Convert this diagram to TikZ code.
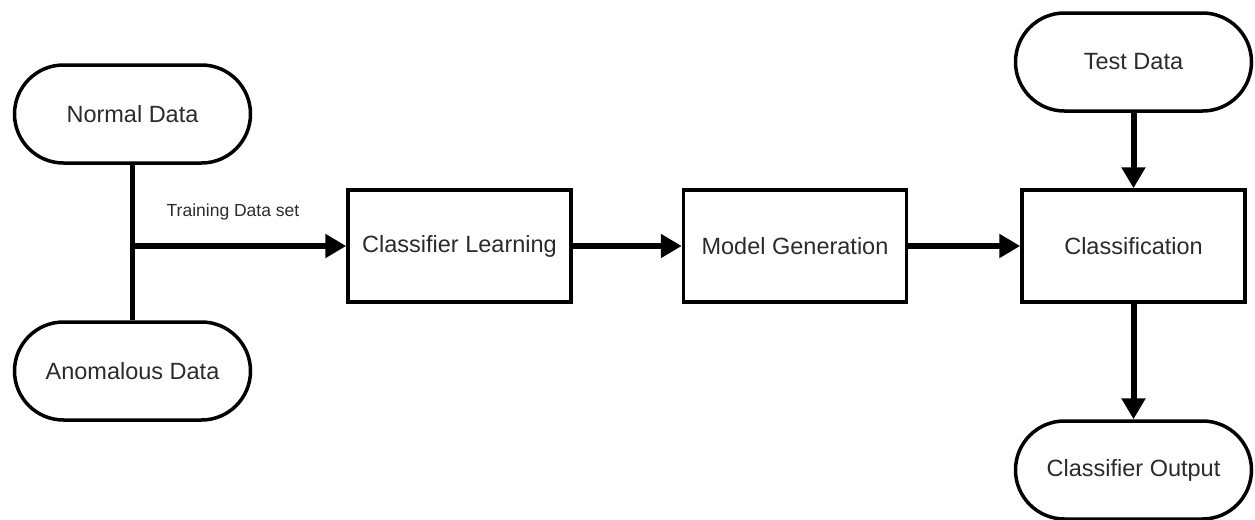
\documentclass[tikz,border=0pt]{standalone}
\usepackage{fontspec}
\setmainfont{Liberation Sans}
\usetikzlibrary{arrows.meta}
\definecolor{inkgray}{HTML}{2B2B2B}
\tikzset{
  terminal/.style={draw=black, line width=1.75pt, rounded corners=24.5pt,
    minimum width=118pt, minimum height=49pt, inner sep=0pt,
    font=\fontsize{11.75pt}{14pt}\selectfont, text=inkgray},
  process/.style={draw=black, line width=1.75pt,
    minimum width=111.5pt, minimum height=56pt, inner sep=0pt,
    font=\fontsize{11.75pt}{14pt}\selectfont, text=inkgray},
  flow/.style={line width=3pt, -{Triangle[length=10.5pt, width=11.5pt]}},
  link/.style={line width=2.6pt},
  caption/.style={font=\fontsize{8.75pt}{10pt}\selectfont, text=inkgray}
}
\begin{document}
\begin{tikzpicture}[x=0.5pt, y=-0.5pt]
  \useasboundingbox (0,0) rectangle (1255,520);
  % data sources
  \node[terminal] (normal) at (132.5,114) {Normal Data};
  \node[terminal] (anom) at (132.5,371) {Anomalous Data};
  % processing chain
  \node[process] (learn) at (459.5,246) {Classifier Learning};
  \node[process] (model) at (795,246) {Model Generation};
  \node[process] (classify) at (1133.5,246) {Classification};
  % test input and result
  \node[terminal] (test) at (1133.5,62) {Test Data};
  \node[terminal] (out) at (1133.5,470) {Classifier Output};
  % training set merge
  \draw[link] (normal.south) -- (anom.north);
  \coordinate (merge) at (normal.south |- learn.west);
  \draw[flow] (merge) -- (learn.west);
  \node[caption] (trainlbl) at (233,212) {Training Data set};
  % main flow
  \draw[flow] (learn.east) -- (model.west);
  \draw[flow] (model.east) -- (classify.west);
  \draw[flow] (test.south) -- (classify.north);
  \draw[flow] (classify.south) -- (out.north);
\end{tikzpicture}
\end{document}
